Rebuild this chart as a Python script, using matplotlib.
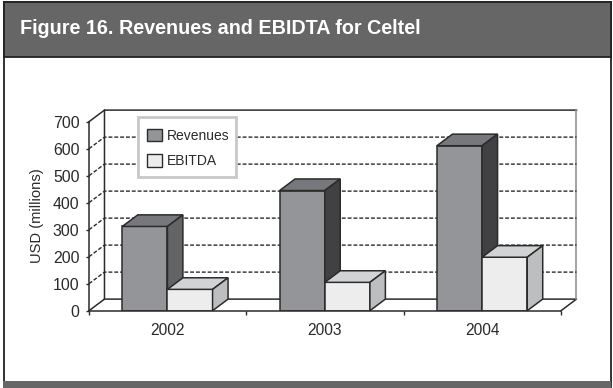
import matplotlib
matplotlib.use('Agg')
import matplotlib.pyplot as plt
from matplotlib.patches import Patch, Polygon, Rectangle

plt.rcParams['font.family'] = ['Liberation Sans', 'DejaVu Sans']

years = ['2002', '2003', '2004']
revenues = [312, 445, 611]
ebitda = [79, 105, 198]
y_ticks = [0, 100, 200, 300, 400, 500, 600, 700]

W, H = 613, 388
# depth of the fake 3D box, in data units
DX = 15.5 / 157.5
DY = 11.6 / 0.2703
BAR_W = 45.2 / 157.5
BAR_START = 33.3 / 157.5

REV_FRONT, REV_TOP, REV_SIDE = '#939598', '#77787b', '#636466'
REV_SIDE_DARK = '#414042'
EB_FRONT, EB_TOP, EB_SIDE = '#ededed', '#d1d3d4', '#bcbec0'
EDGE = '#2b2b2b'
BAND = '#666666'
TEXT = '#2a2a2a'


def px_rect(x0, y0, x1, y1):
    return [x0 / W, 1 - y1 / H, (x1 - x0) / W, (y1 - y0) / H]


def draw_bar(ax, x, value, front, top, side):
    ax.bar(x, value, BAR_W, align='edge', color=front, edgecolor=EDGE, linewidth=1.1, zorder=5)
    ax.add_patch(Polygon([(x, value), (x + DX, value + DY), (x + BAR_W + DX, value + DY), (x + BAR_W, value)],
                         facecolor=top, edgecolor=EDGE, linewidth=1.1, zorder=5, clip_on=False))
    ax.add_patch(Polygon([(x + BAR_W, 0), (x + BAR_W + DX, DY), (x + BAR_W + DX, value + DY), (x + BAR_W, value)],
                         facecolor=side, edgecolor=EDGE, linewidth=1.1, zorder=5, clip_on=False))


fig = plt.figure(figsize=(W / 100, H / 100), dpi=100, facecolor='white')

# page furniture: frame, header band, footer band
bg = fig.add_axes([0, 0, 1, 1], zorder=0)
bg.set_xlim(0, W)
bg.set_ylim(H, 0)
bg.axis('off')
bg.add_patch(Rectangle((3.5, 1.5), 607.5, 385, facecolor='white', edgecolor='#222222', linewidth=1.3))
bg.add_patch(Rectangle((3.5, 1.5), 607.5, 55, facecolor=BAND, edgecolor='#222222', linewidth=1.3))
bg.add_patch(Rectangle((3, 381), 608, 7, facecolor=BAND, edgecolor='none'))
bg.text(19.5, 28, 'Figure 16. Revenues and EBIDTA for Celtel', color='white', fontsize=14.2,
        fontweight='bold', va='center', ha='left')

ax = fig.add_axes(px_rect(89, 121.7, 561, 310.7), zorder=1)
ax.patch.set_alpha(0)
ax.set_xlim(0, 3)
ax.set_ylim(0, 700)
for name in ['top', 'right']:
    ax.spines[name].set_visible(False)
for name in ['left', 'bottom']:
    ax.spines[name].set_color(EDGE)
    ax.spines[name].set_linewidth(1.1)
ax.spines['bottom'].set_zorder(6)

# back wall and floor
ax.plot([0, DX, DX, 3 + DX], [0, DY, 700 + DY, 700 + DY], color=EDGE, lw=1.1, clip_on=False, zorder=1)
ax.plot([0, DX], [700, 700 + DY], color=EDGE, lw=1.1, clip_on=False, zorder=1)
ax.plot([DX, 3 + DX, 3], [DY, DY, 0], color=EDGE, lw=1.1, clip_on=False, zorder=1)
ax.plot([3 + DX, 3 + DX], [DY, 700 + DY], color='#8a8a8a', lw=1.1, clip_on=False, zorder=1)

# dashed gridlines along the side and back walls
for v in y_ticks[1:-1]:
    ax.plot([0, DX, 3 + DX], [v, v + DY, v + DY], color=EDGE, lw=1.0, ls=(0, (2.8, 1.4)), clip_on=False, zorder=1)

for i in range(len(years)):
    side = REV_SIDE_DARK if i > 0 else REV_SIDE
    draw_bar(ax, i + BAR_START, revenues[i], REV_FRONT, REV_TOP, side)
    draw_bar(ax, i + BAR_START + BAR_W, ebitda[i], EB_FRONT, EB_TOP, EB_SIDE)

ax.set_yticks(y_ticks)
ax.set_xticks([0, 1, 2, 3])
ax.set_xticklabels([])
ax.set_xticks([0.5, 1.5, 2.5], labels=years, minor=True)
ax.tick_params(axis='y', labelsize=11.4, length=2, width=1, color=EDGE, labelcolor=TEXT, pad=4.8)
ax.tick_params(axis='x', which='major', length=3, width=1, color=EDGE)
ax.tick_params(axis='x', which='minor', length=0, labelsize=11.2, labelcolor=TEXT, pad=8.5)

fig.text(36.5 / W, 1 - 216 / H, 'USD (millions)', rotation=90, va='center', ha='center',
         fontsize=10.6, color=TEXT)

# legend frame is separate so its padding can differ per side
ax.add_patch(Rectangle((138 / W, 1 - 177 / H), 98 / W, 60 / H, transform=fig.transFigure, facecolor='white',
                       edgecolor='#c8c8c8', linewidth=2, clip_on=False, zorder=7))
handles = [Patch(facecolor=REV_FRONT, edgecolor=EDGE, label='Revenues'),
           Patch(facecolor=EB_FRONT, edgecolor=EDGE, label='EBITDA')]
leg = ax.legend(handles=handles, loc='upper left', bbox_to_anchor=(147 / W, 1 - 128.5 / H),
                bbox_transform=fig.transFigure, fontsize=10, frameon=False, borderaxespad=0,
                handlelength=1.06, handleheight=1.0, handletextpad=0.36, labelspacing=0.86,
                borderpad=0, labelcolor=TEXT)
leg.set_zorder(8)

fig.savefig('out.png', dpi=100)
